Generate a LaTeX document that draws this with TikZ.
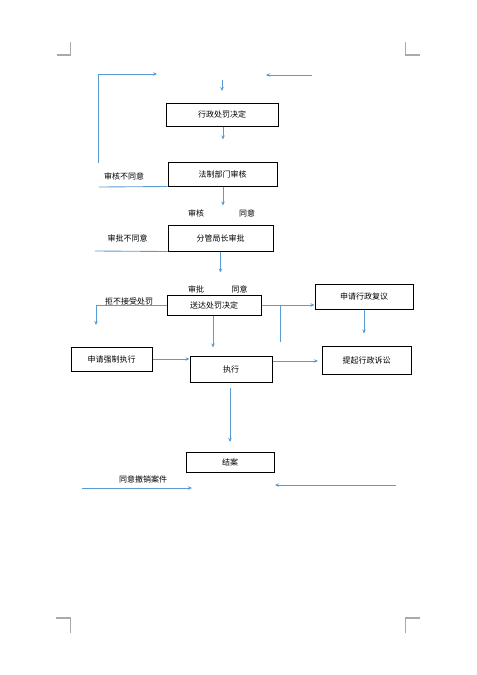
\documentclass[tikz,border=0pt]{standalone}
\usepackage{fontspec}
\setmainfont{Noto Sans CJK SC}
\usetikzlibrary{arrows.meta}

\definecolor{flowblue}{RGB}{91,155,213}
\definecolor{markgray}{RGB}{170,170,170}

\tikzset{every picture/.style={line width=0.75pt}}
\tikzset{
  box/.style={draw=black, inner sep=0pt, align=center, font=\fontsize{6}{7}\selectfont},
  lbl/.style={inner sep=0pt, font=\fontsize{6}{7}\selectfont},
  flow/.style={draw=flowblue, line width=0.65pt},
  flowarr/.style={flow, -{Stealth[length=3pt,width=2.6pt]}},
  cropmark/.style={draw=markgray, line width=0.9pt}
}

\begin{document}
\begin{tikzpicture}[x=0.75pt,y=0.75pt,yscale=-1]
  \useasboundingbox (0,0) rectangle (477,675);

  %Crop marks
  \draw[cropmark] (70.5,42) -- (70.5,55) -- (57,55) ;
  \draw[cropmark] (405.5,42) -- (405.5,55) -- (420,55) ;
  \draw[cropmark] (56,618) -- (70.5,618) -- (70.5,633) ;
  \draw[cropmark] (420,618) -- (405.5,618) -- (405.5,633) ;

  %Shape: Rectangle [boxes]
  \node[box, minimum width=84pt, minimum height=17.25pt] (act) at (222,114.5) {行政处罚决定};
  \node[box, minimum width=81.75pt, minimum height=18pt] (legal) at (222.5,174) {法制部门审核};
  \node[box, minimum width=78.75pt, minimum height=19.5pt] (chief) at (220.5,238) {分管局长审批};
  \node[box, minimum width=70.5pt, minimum height=15pt] (serve) at (214,305) {送达处罚决定};
  \node[box, minimum width=73.5pt, minimum height=18.75pt] (review) at (364,296.5) {申请行政复议};
  \node[box, minimum width=66.75pt, minimum height=21pt] (suit) at (366.5,360) {提起行政诉讼};
  \node[box, minimum width=60.75pt, minimum height=18pt] (force) at (111.5,359) {申请强制执行};
  \node[box, minimum width=61.5pt, minimum height=19.5pt] (exec) at (231,369) {执行};
  \node[box, minimum width=66pt, minimum height=15pt] (close) at (230,462) {结案};

  % Text Node
  \node[lbl] (legalno) at (124,176) {审核不同意};
  \node[lbl] (legalok) at (196,213) {审核};
  \node[lbl] (legalyes) at (247,213) {同意};
  \node[lbl] (chiefno) at (127.5,238) {审批不同意};
  \node[lbl] (chiefok) at (196,289) {审批};
  \node[lbl] (chiefyes) at (239.5,289) {同意};
  \node[lbl] (refuse) at (129,301) {拒不接受处罚};
  \node[lbl] (cancel) at (143,479) {同意撤销案件};

  %Free ends
  \coordinate (loopbot) at (98,163);
  \coordinate (looptop) at (98,74);
  \coordinate (loopend) at (157,74);
  \coordinate (rtopst) at (312,75);
  \coordinate (rtopend) at (266,75);
  \coordinate (midst) at (222,80);
  \coordinate (midend) at (222,91);
  \coordinate (refusecorner) at (96,305);
  \coordinate (refuseend) at (96,325);
  \coordinate (branchtop) at (280,305);
  \coordinate (branchbot) at (280,342);
  \coordinate (closest) at (230,388);
  \coordinate (closeend) at (230,442);
  \coordinate (cancelst) at (82,488);
  \coordinate (cancelend) at (192,488);
  \coordinate (rbotst) at (396,485);
  \coordinate (rbotend) at (275,485);

  %Straight Lines [top]
  \draw[flow] (loopbot) -- (looptop) ;
  \draw[flowarr] (looptop) -- (loopend) ;
  \draw[flowarr] (rtopst) -- (rtopend) ;
  \draw[flowarr] (midst) -- (midend) ;

  %Straight Lines [main column]
  \draw[flowarr] (act.south) ++(1,0) -- ++(0,13) ;
  \draw[flowarr] (legal.south) ++(0.5,0) -- ++(0,19) ;
  \draw[flowarr] (chief.south) -- ++(0,21) ;
  \draw[flowarr] (serve.south) ++(-1,0) -- ++(0,32) ;
  \draw[flowarr] (closest) -- (closeend) ;

  %Straight Lines [disagree]
  \draw[flow] (99,187) -- (legal.south west) ;
  \draw[flow] (95,251) -- (chief.south west) ;

  %Straight Lines [after serve]
  \draw[flowarr] (serve.west) -- (refusecorner) -- (refuseend) ;
  \draw[flowarr] (serve.east) -- (serve.east -| review.west) ;
  \draw[flow] (branchtop) -- (branchbot) ;
  \draw[flowarr] (review.south) -- ++(0,24) ;
  \draw[flowarr] (force.east) -- (force.east -| exec.west) ;
  \draw[flowarr] (exec.east) ++(0,-8) -- (318,361) ;

  %Straight Lines [bottom]
  \draw[flowarr] (cancelst) -- (cancelend) ;
  \draw[flowarr] (rbotst) -- (rbotend) ;

\end{tikzpicture}
\end{document}
